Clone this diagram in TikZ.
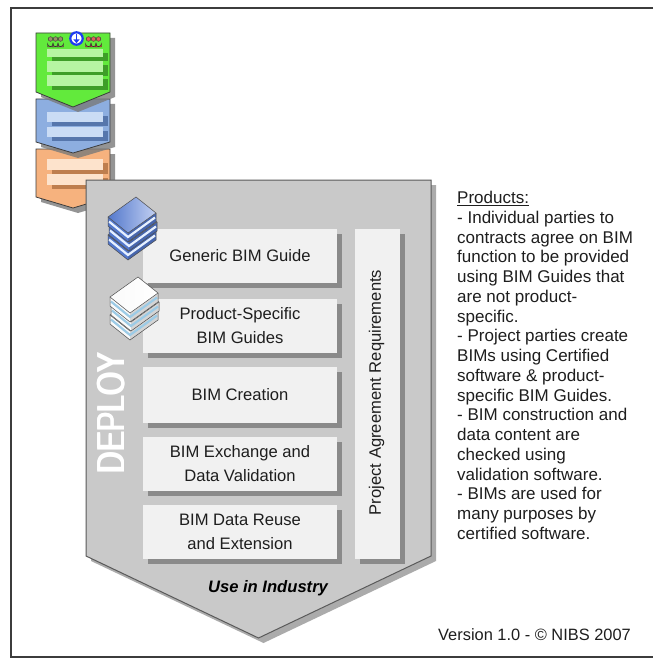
\documentclass[tikz,border=0pt]{standalone}
\usepackage{fontspec}
\setmainfont{Liberation Sans}
\usepackage{graphicx}
\usetikzlibrary{shadows}

\definecolor{framegrey}{HTML}{3C3C3C}
\definecolor{deployfill}{HTML}{C9C9C9}
\definecolor{deployline}{HTML}{5A5A5A}
\definecolor{deployshadow}{HTML}{ABABAB}
\definecolor{boxfill}{HTML}{F1F1F1}
\definecolor{boxshadow}{HTML}{8A8A8A}
\definecolor{txt}{HTML}{1E1E1E}
\definecolor{greenfill}{HTML}{62EA3C}
\definecolor{greenbar}{HTML}{B6F5A2}
\definecolor{greenbarsh}{HTML}{3E9E28}
\definecolor{bluefill}{HTML}{8DAEE0}
\definecolor{bluebar}{HTML}{CADCF5}
\definecolor{bluebarsh}{HTML}{5676AC}
\definecolor{orangefill}{HTML}{F6B27E}
\definecolor{orangebar}{HTML}{FDE3CC}
\definecolor{orangebarsh}{HTML}{BE7E4E}
\definecolor{stageshadow}{HTML}{7A7A7A}
\definecolor{bookblue}{HTML}{5378CC}
\definecolor{bookbluelight}{HTML}{C2D0F2}
\definecolor{bookpage}{HTML}{E6F0FF}
\definecolor{bookwhite}{HTML}{FAFAFA}
\definecolor{bookstripe}{HTML}{9CCBE6}
\definecolor{infoblue}{HTML}{1E3CF0}
\definecolor{peopleolive}{HTML}{7E7444}
\definecolor{peoplered}{HTML}{D83838}

% one isometric book: shift x, shift y, top colour (left), top colour (right), side colour, page colour
\newcommand{\isobook}[6]{%
  \begin{scope}[shift={(#1,#2)}]
    \fill[#5] (0,20) -- (20,36) -- (20,45) -- (0,29) -- cycle;
    \fill[#5!85!black] (20,36) -- (48,16) -- (48,25) -- (20,45) -- cycle;
    \draw[#6, line width=2.2pt] (1,24.5) -- (20,40) -- (47,20.5);
    \draw[bookedge] (0,20) -- (0,29) -- (20,45) -- (48,25) -- (48,16);
    \shade[left color=#3, right color=#4] (0,20) -- (28,0) -- (48,16) -- (20,36) -- cycle;
    \draw[bookedge] (0,20) -- (28,0) -- (48,16) -- (20,36) -- cycle;
  \end{scope}}

% a small person: centre x, colour
\newcommand{\tinyperson}[2]{%
  \fill[#2, draw=black!80, line width=0.4pt] (#1-3,47) -- (#1-3,43.5)
     arc[start angle=180, end angle=0, radius=3] -- (#1+3,47) -- cycle;
  \fill[#2!80!white, draw=black!80, line width=0.4pt] (#1,39) circle[radius=2.3];}

\begin{document}
\begin{tikzpicture}[x=1pt, y=-1pt,
  bookedge/.style={draw=black!70, line width=0.5pt},
  stagebox/.style={fill=boxfill, text=txt, align=center, inner sep=0pt,
    minimum width=194pt, minimum height=54pt,
    font=\fontsize{16.6}{24}\selectfont,
    drop shadow={shadow xshift=5pt, shadow yshift=-5pt, fill=boxshadow, opacity=1}},
  bar/.style={drop shadow={shadow xshift=5pt, shadow yshift=-4pt, fill=#1, opacity=1}},
  smallchev/.style={draw=framegrey, line width=0.8pt,
    drop shadow={shadow xshift=5pt, shadow yshift=-5pt, fill=stageshadow, opacity=0.8}},
  deploytext/.style={rotate=90, text=white, inner sep=0pt, font=\fontsize{39}{39}\selectfont},
]
\useasboundingbox (0,0) rectangle (653,658);
\fill[white] (0,0) rectangle (653,658);

% page frame
\draw[framegrey, line width=1.5pt] (653,8) -- (11,8) -- (11,657) -- (653,657);

% process stages, drawn from the last up to the first
\path[smallchev, fill=orangefill] (36,149) -- (110,149) -- (110,197) -- (73,208) -- (36,197) -- cycle;
\fill[orangebar, bar=orangebarsh] (47,159) rectangle (103,170);
\fill[orangebar, bar=orangebarsh] (47,174) rectangle (103,185);

\path[smallchev, fill=bluefill] (36,99) -- (110,99) -- (110,142) -- (73,153) -- (36,142) -- cycle;
\fill[bluebar, bar=bluebarsh] (47,112) rectangle (103,122);
\fill[bluebar, bar=bluebarsh] (47,127) rectangle (103,137);

\path[smallchev, fill=greenfill] (36,33) -- (110,33) -- (110,92) -- (73,107) -- (36,92) -- cycle;
\fill[greenbar, bar=greenbarsh] (47,49) rectangle (103,57);
\fill[greenbar, bar=greenbarsh] (47,61) rectangle (103,72);
\fill[greenbar, bar=greenbarsh] (47,75) rectangle (103,86);

% participants and the stage marker on the first stage
\tinyperson{50.5}{peopleolive}
\tinyperson{55.5}{peopleolive}
\tinyperson{60.5}{peopleolive}
\tinyperson{88.5}{peoplered}
\tinyperson{93.5}{peoplered}
\tinyperson{98.5}{peoplered}
\draw[infoblue, fill=white, line width=2.2pt] (76.5,38.5) circle[radius=6.2];
\draw[infoblue, line width=1.7pt] (76.5,34.3) -- (76.5,40);
\fill[infoblue] (73.3,39.3) -- (79.7,39.3) -- (76.5,43.2) -- cycle;

% the DEPLOY stage
\path[draw=deployline, line width=1pt, fill=deployfill,
      drop shadow={shadow xshift=5pt, shadow yshift=-5pt, fill=deployshadow, opacity=1}]
  (86,180) -- (431,180) -- (431,556) -- (258.5,638) -- (86,556) -- cycle;

% stage title, set three times with small offsets along the text to give fuller stems
\node[deploytext] at (111,412.1) {\scalebox{0.76}[1]{DEPLOY}};
\node[deploytext] at (111,413.9) {\scalebox{0.76}[1]{DEPLOY}};
\node[deploytext] (deploy) at (111,413) {\scalebox{0.76}[1]{DEPLOY}};

\node[stagebox] (generic) at (240,256) {Generic BIM Guide};
\node[stagebox] (specific) at (240,325.5) {Product-Specific\\BIM Guides};
\node[stagebox, minimum height=56pt] (creation) at (240,395) {BIM Creation};
\node[stagebox] (exchange) at (240,463.5) {BIM Exchange and\\Data Validation};
\node[stagebox] (reuse) at (240,532) {BIM Data Reuse\\and Extension};

\node[stagebox, minimum width=45pt, minimum height=330pt] (agreement) at (377.5,394) {};
\node[rotate=90, text=txt, inner sep=0pt, font=\fontsize{16.6}{20}\selectfont] (agreementlabel) at (376.5,392.5)
  {Project Agreement Requirements};

\node[text=black, inner sep=0pt, font=\fontsize{16.6}{20}\selectfont\bfseries\itshape] (industry) at (268,588)
  {Use in Industry};

% guide book stacks
\isobook{108}{215}{bookblue}{bookbluelight}{bookblue}{bookpage}
\isobook{109}{206}{bookblue}{bookbluelight}{bookblue}{bookpage}
\isobook{108}{197}{bookblue}{bookbluelight}{bookblue}{bookpage}
\isobook{110}{295}{bookwhite}{white}{bookwhite}{bookstripe}
\isobook{111}{286}{bookwhite}{white}{bookwhite}{bookstripe}
\isobook{110}{277}{bookwhite}{white}{bookwhite}{bookstripe}

% description of the products
\node[anchor=north west, align=left, inner sep=0pt, text=txt,
      font=\fontsize{17}{19.75}\selectfont] (products) at (457,191)
 {\underline{Products:}\\
  - Individual parties to\\
  contracts agree on BIM\\
  function to be provided\\
  using BIM Guides that\\
  are not product-\\
  specific.\\
  - Project parties create\\
  BIMs using Certified\\
  software \& product-\\
  specific BIM Guides.\\
  - BIM construction and\\
  data content are\\
  checked using\\
  validation software.\\
  - BIMs are used for\\
  many purposes by\\
  certified software.};

\node[anchor=base west, inner sep=0pt, text=txt, font=\fontsize{16.4}{20}\selectfont] (version) at (438,640)
  {Version 1.0 - © NIBS 2007};
\end{tikzpicture}
\end{document}
